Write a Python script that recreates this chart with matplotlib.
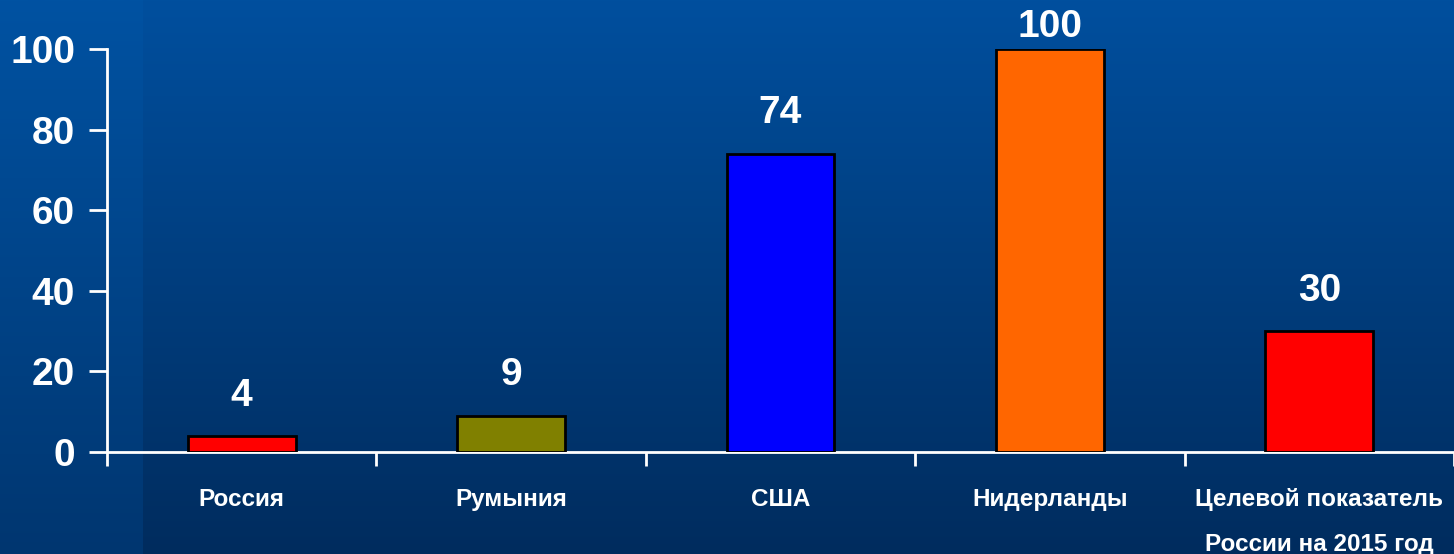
import matplotlib.pyplot as plt
import numpy as np
from matplotlib.colors import LinearSegmentedColormap

categories = ['Россия', 'Румыния', 'США', 'Нидерланды', 'Целевой показатель\nРоссии на 2015 год']
values = [4, 9, 74, 100, 30]
colors = ['#ff0000', '#808000', '#0000ff', '#ff6600', '#ff0000']
yticks = [0, 20, 40, 60, 80, 100]

plt.rcParams['font.family'] = ['Liberation Sans', 'DejaVu Sans']

fig = plt.figure(figsize=(14.54, 5.54), dpi=100)

# фон: вертикальный градиент (сверху светлее)
bg = fig.add_axes([0, 0, 1, 1], zorder=-2)
grad = np.linspace(0, 1, 256).reshape(-1, 1)
cm_outer = LinearSegmentedColormap.from_list('outer', ['#0052a2', '#003670'])
cm_inner = LinearSegmentedColormap.from_list('inner', ['#004f9e', '#002c5e'])
bg.imshow(grad, aspect='auto', cmap=cm_outer, extent=[0, 1, 0, 1], origin='upper')
bg.imshow(grad, aspect='auto', cmap=cm_inner, extent=[143 / 1454, 1, 0, 1], origin='upper')
bg.set_xlim(0, 1)
bg.set_ylim(0, 1)
bg.axis('off')

ax = fig.add_axes([107 / 1454, 1 - 452 / 554, 1 - 107 / 1454, (452 - 49) / 554])
ax.set_facecolor('none')

x = np.arange(len(categories))
ax.bar(x, values, width=0.4, color=colors, edgecolor='black', linewidth=2, zorder=3)

for xi, v in zip(x, values):
    ax.text(xi, min(v + 10, 105.5), str(v), ha='center', va='center',
            color='white', fontsize=28, fontweight='bold', clip_on=False)

ax.set_xlim(-0.5, len(categories) - 0.5)
ax.set_ylim(0, 100)

ax.set_yticks(yticks)
ax.set_yticklabels([str(t) for t in yticks], fontsize=28, fontweight='bold', color='white')
ax.tick_params(axis='y', colors='white', length=13, width=2, pad=10)

ax.set_xticks(np.arange(-0.5, len(categories), 1.0))
ax.set_xticklabels([])
ax.tick_params(axis='x', which='major', colors='white', length=10, width=2)
ax.set_xticks(x, minor=True)
ax.set_xticklabels(categories, minor=True, fontsize=17.5, fontweight='bold', color='white',
                   linespacing=2.2)
ax.tick_params(axis='x', which='minor', length=0, pad=26)

for s in ['top', 'right']:
    ax.spines[s].set_visible(False)
for s in ['left', 'bottom']:
    ax.spines[s].set_color('white')
    ax.spines[s].set_linewidth(2)

fig.savefig('out.png', dpi=100)
